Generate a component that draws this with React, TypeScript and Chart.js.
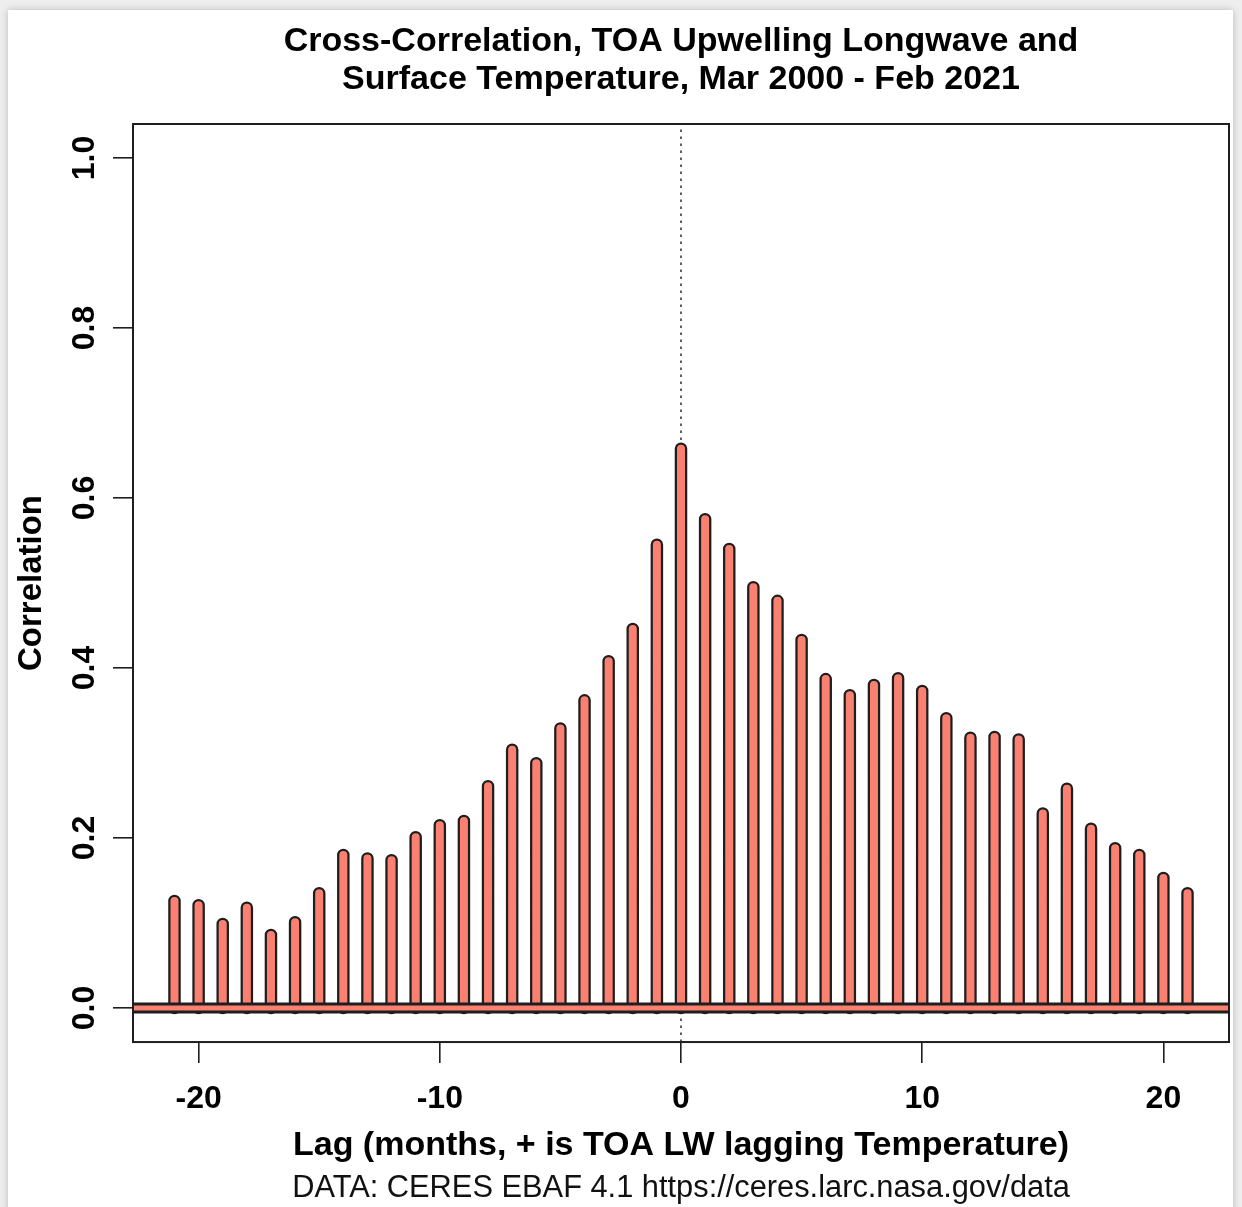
import { useEffect, useRef } from "react";
import { Chart, registerables } from "chart.js";

Chart.register(...registerables);

// Lag in months (+ means TOA LW lags temperature)
const LAGS = [
  -21, -20, -19, -18, -17, -16, -15, -14, -13, -12, -11, -10, -9, -8, -7, -6, -5, -4, -3, -2, -1,
  0, 1, 2, 3, 4, 5, 6, 7, 8, 9, 10, 11, 12, 13, 14, 15, 16, 17, 18, 19, 20, 21,
];

// Cross-correlation at each lag
const CORRELATIONS = [
  0.126, 0.121, 0.099, 0.118, 0.086, 0.101, 0.135, 0.18, 0.176, 0.174, 0.201, 0.215, 0.22, 0.261,
  0.304, 0.288, 0.329, 0.362, 0.408, 0.446, 0.545,
  0.658, 0.575, 0.54, 0.495, 0.479, 0.433, 0.387, 0.368, 0.38, 0.388, 0.373, 0.341, 0.318, 0.319,
  0.316, 0.229, 0.258, 0.211, 0.188, 0.18, 0.153, 0.135,
];

const X_TICKS = [-20, -10, 0, 10, 20];
const Y_TICKS = [0, 0.2, 0.4, 0.6, 0.8, 1.0];
const X_RANGE = [-22.72, 22.72];
const Y_RANGE = [-0.04, 1.04];

const TITLE_LINES = [
  "Cross-Correlation, TOA Upwelling Longwave and",
  "Surface Temperature, Mar 2000 - Feb 2021",
];
const X_LABEL = "Lag (months, + is TOA LW lagging Temperature)";
const Y_LABEL = "Correlation";
const SOURCE_NOTE = "DATA: CERES EBAF 4.1 https://ceres.larc.nasa.gov/data";

const SALMON = "#FA8072";
const INK = "#1e1e1e";
const FONT = "'Liberation Sans', Arial, Helvetica, sans-serif";

// Box around the plotting region, like base graphics' box()
const framePlugin = {
  id: "frame",
  afterDatasetsDraw(chart: any) {
    const { ctx, chartArea } = chart;
    ctx.save();
    ctx.strokeStyle = INK;
    ctx.lineWidth = 2;
    ctx.strokeRect(chartArea.left, chartArea.top, chartArea.right - chartArea.left, chartArea.bottom - chartArea.top);
    ctx.restore();
  },
};

export default function App() {
  const canvasRef = useRef<HTMLCanvasElement | null>(null);

  useEffect(() => {
    if (!canvasRef.current) return;

    // Each stem runs from 0 up to its correlation; a null point breaks the path
    const stems = LAGS.flatMap((lag, i) => [
      { x: lag, y: 0 },
      { x: lag, y: CORRELATIONS[i] },
      { x: lag, y: null },
    ]);
    const zeroLine = [
      { x: X_RANGE[0], y: 0 },
      { x: X_RANGE[1], y: 0 },
    ];
    const lagZero = [
      { x: 0, y: Y_RANGE[0] },
      { x: 0, y: Y_RANGE[1] },
    ];

    const lineBase = {
      showLine: true,
      pointRadius: 0,
      pointHoverRadius: 0,
      tension: 0,
      spanGaps: false,
      fill: false,
    };

    const chart = new Chart(canvasRef.current, {
      type: "scatter",
      data: {
        datasets: [
          { ...lineBase, data: zeroLine, borderColor: SALMON, borderWidth: 5, borderCapStyle: "butt", order: 0 },
          { ...lineBase, data: zeroLine, borderColor: INK, borderWidth: 11, borderCapStyle: "butt", order: 1 },
          { ...lineBase, data: stems, borderColor: SALMON, borderWidth: 8, borderCapStyle: "round", order: 2 },
          { ...lineBase, data: stems, borderColor: INK, borderWidth: 12.5, borderCapStyle: "round", order: 3 },
          { ...lineBase, data: lagZero, borderColor: "#444", borderWidth: 1.7, borderDash: [2.5, 4.5], order: 4 },
        ] as any,
      },
      options: {
        responsive: false,
        animation: false,
        events: [],
        layout: { padding: { left: 0, right: 13, top: 0, bottom: 0 } },
        plugins: {
          legend: { display: false },
          tooltip: { enabled: false },
          title: {
            display: true,
            text: TITLE_LINES,
            color: "#000",
            fullSize: false,
            font: { family: FONT, size: 34, weight: "bold", lineHeight: 38 / 34 },
            padding: { top: 23, bottom: 25 },
          },
          subtitle: {
            display: true,
            position: "bottom",
            text: SOURCE_NOTE,
            color: "#111",
            fullSize: false,
            font: { family: FONT, size: 30.8, weight: "normal", lineHeight: 1.2 },
            padding: { top: 1, bottom: 0 },
          },
        },
        scales: {
          x: {
            type: "linear",
            min: X_RANGE[0],
            max: X_RANGE[1],
            afterBuildTicks: (axis: any) => {
              axis.ticks = X_TICKS.map((value) => ({ value }));
            },
            afterFit: (axis: any) => {
              axis.height = 127;
            },
            border: { display: false },
            grid: { display: true, drawOnChartArea: false, drawTicks: true, tickLength: 21, color: INK, lineWidth: 1.6 },
            ticks: {
              autoSkip: false,
              maxRotation: 0,
              color: "#000",
              padding: 17,
              font: { family: FONT, size: 32, weight: "bold" },
              callback: (v: any) => String(v),
            },
            title: {
              display: true,
              text: X_LABEL,
              color: "#000",
              font: { family: FONT, size: 34, weight: "bold", lineHeight: 1.2 },
              padding: { top: 0, bottom: 3.5 },
            },
          },
          y: {
            type: "linear",
            min: Y_RANGE[0],
            max: Y_RANGE[1],
            afterBuildTicks: (axis: any) => {
              axis.ticks = Y_TICKS.map((value) => ({ value }));
            },
            afterFit: (axis: any) => {
              axis.width = 133;
            },
            border: { display: false },
            grid: { display: true, drawOnChartArea: false, drawTicks: true, tickLength: 20, color: INK, lineWidth: 1.6 },
            ticks: {
              autoSkip: false,
              minRotation: 90,
              maxRotation: 90,
              crossAlign: "center",
              color: "#000",
              padding: 6,
              font: { family: FONT, size: 32, weight: "bold" },
              callback: (v: any) => Number(v).toFixed(1),
            },
            title: {
              display: true,
              text: Y_LABEL,
              color: "#000",
              font: { family: FONT, size: 33, weight: "bold", lineHeight: 1.2 },
              padding: { top: 12, bottom: 0 },
            },
          },
        },
      } as any,
      plugins: [framePlugin],
    });

    return () => chart.destroy();
  }, []);

  return (
    <div
      style={{
        position: "fixed",
        left: 0,
        top: 0,
        width: 1242,
        height: 1207,
        background: "#eeeeee",
        overflow: "hidden",
      }}
    >
      <div
        style={{
          position: "absolute",
          left: 8,
          top: 10,
          width: 1225,
          height: 1210,
          background: "#ffffff",
          boxShadow: "0 0 7px rgba(0,0,0,0.22)",
        }}
      />
      <canvas
        ref={canvasRef}
        width={1242}
        height={1207}
        style={{ position: "absolute", left: 0, top: 0, width: 1242, height: 1207 }}
      />
    </div>
  );
}
